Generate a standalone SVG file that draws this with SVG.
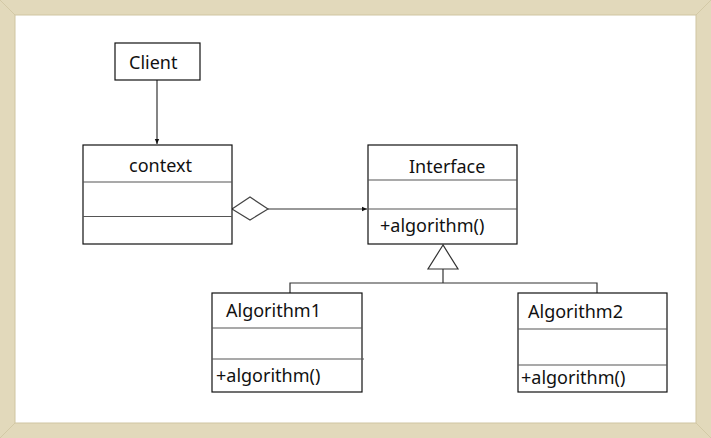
<svg xmlns="http://www.w3.org/2000/svg" width="711" height="438" viewBox="0 0 711 438">
<defs>
<style>
.box{fill:#fff;stroke:#111;stroke-width:1.2}
.div{stroke:#555;stroke-width:1.2}
.t{font-family:"Noto Sans","Open Sans",sans-serif;font-size:18px;fill:#111}
.ln{stroke:#333;stroke-width:1.2;fill:none}
</style>
<marker id="arr" markerWidth="6" markerHeight="6" refX="5" refY="3" orient="auto" markerUnits="userSpaceOnUse">
<path d="M0,0.8 L5,3 L0,5.2 Z" fill="#111"/>
</marker>
</defs>
<rect x="0" y="0" width="711" height="438" fill="#e2d9bb"/>
<path d="M0,0 L15,15 M711,0 L696,15 M0,438 L15,423 M711,438 L696,423" stroke="#d3c9a6" stroke-width="1"/>
<rect x="15" y="15" width="681" height="408" fill="#fff" stroke="#cfc5a2" stroke-width="1"/>

<g id="connectors">
<line class="ln" x1="157" y1="80" x2="157" y2="144" marker-end="url(#arr)"/>
<polygon points="232,209 250,197 268,209 250,220" fill="#fff" stroke="#444" stroke-width="1.2"/>
<line class="ln" x1="268" y1="209" x2="367" y2="209" marker-end="url(#arr)"/>
<polygon points="443,245 428,269 458,269" fill="#fff" stroke="#333" stroke-width="1.2"/>
<line class="ln" x1="443" y1="269" x2="443" y2="283"/>
<polyline class="ln" points="290,293 290,283 597,283 597,293"/>
</g>

<g id="client">
<rect class="box" x="115" y="43" width="85" height="37"/>
<text class="t" x="129" y="69">Client</text>
</g>

<g id="context">
<rect class="box" x="83" y="145" width="149" height="99"/>
<line class="div" x1="83" y1="182" x2="232" y2="182"/>
<line class="div" x1="83" y1="216.5" x2="232" y2="216.5"/>
<text class="t" x="129" y="172">context</text>
</g>

<g id="interface">
<rect class="box" x="368" y="145" width="149" height="99"/>
<line class="div" x1="368" y1="180" x2="517" y2="180"/>
<line class="div" x1="368" y1="209" x2="517" y2="209"/>
<text class="t" x="409" y="173">Interface</text>
<text class="t" x="380" y="232">+algorithm()</text>
</g>

<g id="algorithm1">
<rect class="box" x="212" y="293" width="150" height="99"/>
<line class="div" x1="212" y1="328" x2="362" y2="328"/>
<line class="div" x1="212" y1="359" x2="364" y2="359"/>
<text class="t" x="226" y="317">Algorithm1</text>
<text class="t" x="216" y="382">+algorithm()</text>
</g>

<g id="algorithm2">
<rect class="box" x="518" y="293" width="149" height="99"/>
<line class="div" x1="518" y1="329" x2="667" y2="329"/>
<line class="div" x1="518" y1="365" x2="667" y2="365"/>
<text class="t" x="528" y="318">Algorithm2</text>
<text class="t" x="521" y="384">+algorithm()</text>
</g>
</svg>
